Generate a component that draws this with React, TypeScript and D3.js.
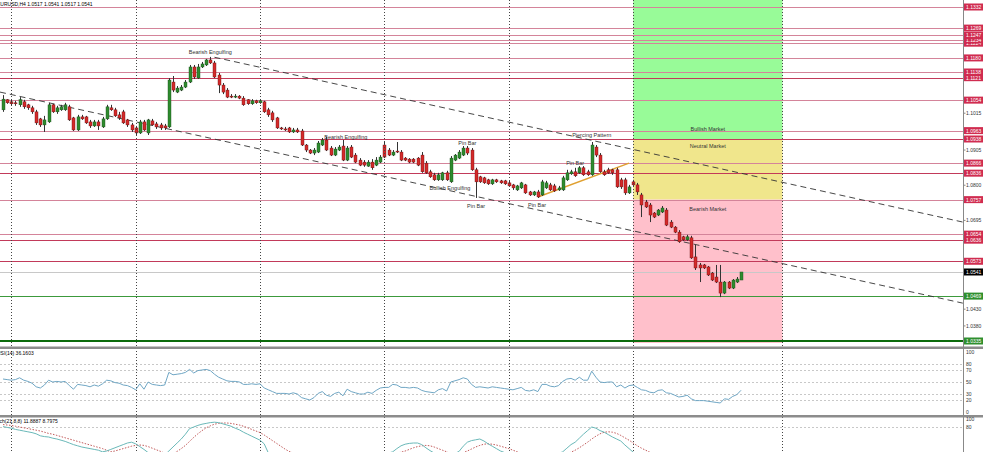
import React from "react";
import * as d3 from "d3";

const W = 983;
const H = 452;

// [open, high, low, close]
const candles: [number, number, number, number][] = [
  [1.1025,1.1069,1.1019,1.1057],[1.1055,1.1057,1.1043,1.1046],[1.1049,1.1055,1.1037,1.1043],[1.1046,1.1052,1.1037,1.1043],
  [1.1040,1.1063,1.1034,1.1055],[1.1049,1.1055,1.1028,1.1034],[1.1040,1.1043,1.1025,1.1031],[1.1031,1.1037,1.1013,1.1019],
  [1.1019,1.1025,1.0980,1.0986],[1.0998,1.1001,1.0974,1.0980],[1.0980,1.1007,1.0959,1.0995],[1.0989,1.1046,1.0986,1.1040],
  [1.1040,1.1043,1.1016,1.1019],[1.1019,1.1037,1.1013,1.1031],[1.1025,1.1040,1.1022,1.1034],[1.1025,1.1046,1.1022,1.1040],
  [1.1034,1.1040,1.0992,1.0995],[1.1001,1.1004,1.0962,1.0965],[1.0965,1.1010,1.0962,1.1004],[1.1004,1.1010,1.0995,1.0998],
  [1.1004,1.1007,1.0983,1.0986],[1.0989,1.0995,1.0971,1.0977],[1.0977,1.0995,1.0974,1.0989],[1.0989,1.0995,1.0965,1.0977],
  [1.0974,1.1004,1.0971,1.0998],[1.0998,1.1040,1.0995,1.1034],[1.1031,1.1040,1.1022,1.1025],[1.1025,1.1031,1.1004,1.1007],
  [1.1010,1.1019,1.0995,1.1001],[1.1019,1.1025,1.0983,1.0986],[1.0995,1.0998,1.0974,1.0980],[1.0980,1.0986,1.0959,1.0965],
  [1.0971,1.0977,1.0950,1.0956],[1.0956,1.0995,1.0953,1.0989],[1.0989,1.0995,1.0962,1.0965],[1.0956,1.0998,1.0950,1.0995],
  [1.0992,1.0998,1.0977,1.0980],[1.0983,1.0989,1.0968,1.0974],[1.0980,1.0986,1.0965,1.0971],[1.0977,1.0983,1.0965,1.0971],
  [1.0974,1.1120,1.0971,1.1114],[1.1108,1.1126,1.1078,1.1084],[1.1078,1.1096,1.1075,1.1090],[1.1084,1.1099,1.1081,1.1093],
  [1.1093,1.1114,1.1090,1.1108],[1.1108,1.1159,1.1105,1.1153],[1.1153,1.1159,1.1117,1.1123],[1.1120,1.1162,1.1117,1.1153],
  [1.1153,1.1168,1.1150,1.1162],[1.1159,1.1177,1.1156,1.1174],[1.1174,1.1183,1.1162,1.1165],[1.1165,1.1171,1.1120,1.1123],
  [1.1129,1.1135,1.1075,1.1099],[1.1099,1.1105,1.1072,1.1078],[1.1084,1.1090,1.1060,1.1063],[1.1066,1.1072,1.1060,1.1063],
  [1.1063,1.1072,1.1060,1.1066],[1.1066,1.1069,1.1057,1.1060],[1.1060,1.1066,1.1037,1.1040],[1.1055,1.1057,1.1040,1.1043],
  [1.1043,1.1057,1.1040,1.1052],[1.1052,1.1055,1.1043,1.1046],[1.1046,1.1055,1.1043,1.1052],[1.1049,1.1052,1.1016,1.1019],
  [1.1025,1.1031,1.1004,1.1010],[1.1016,1.1022,1.0989,1.0995],[1.1001,1.1004,1.0968,1.0971],[1.0971,1.0974,1.0965,1.0968],
  [1.0968,1.0974,1.0962,1.0965],[1.0971,1.0974,1.0956,1.0959],[1.0959,1.0971,1.0956,1.0965],[1.0965,1.0971,1.0956,1.0959],
  [1.0962,1.0968,1.0917,1.0920],[1.0920,1.0923,1.0899,1.0905],[1.0905,1.0908,1.0893,1.0896],[1.0896,1.0911,1.0890,1.0905],
  [1.0899,1.0932,1.0896,1.0926],[1.0920,1.0941,1.0917,1.0935],[1.0935,1.0944,1.0902,1.0905],[1.0911,1.0917,1.0887,1.0890],
  [1.0890,1.0914,1.0887,1.0908],[1.0905,1.0920,1.0902,1.0914],[1.0917,1.0935,1.0872,1.0875],[1.0875,1.0917,1.0872,1.0911],
  [1.0914,1.0920,1.0881,1.0884],[1.0890,1.0896,1.0866,1.0869],[1.0875,1.0881,1.0857,1.0860],[1.0869,1.0875,1.0855,1.0860],
  [1.0857,1.0875,1.0855,1.0869],[1.0869,1.0878,1.0846,1.0852],[1.0860,1.0884,1.0857,1.0875],[1.0869,1.0890,1.0866,1.0884],
  [1.0920,1.0929,1.0881,1.0884],[1.0905,1.0911,1.0887,1.0890],[1.0890,1.0905,1.0887,1.0899],[1.0902,1.0929,1.0896,1.0899],
  [1.0899,1.0905,1.0872,1.0875],[1.0881,1.0884,1.0872,1.0875],[1.0878,1.0881,1.0866,1.0869],[1.0878,1.0881,1.0866,1.0869],
  [1.0881,1.0884,1.0857,1.0860],[1.0890,1.0899,1.0837,1.0840],[1.0866,1.0872,1.0834,1.0837],[1.0840,1.0846,1.0822,1.0825],
  [1.0831,1.0837,1.0813,1.0816],[1.0816,1.0837,1.0813,1.0831],[1.0816,1.0840,1.0813,1.0837],[1.0837,1.0843,1.0813,1.0816],
  [1.0810,1.0887,1.0807,1.0881],[1.0875,1.0893,1.0872,1.0890],[1.0881,1.0905,1.0878,1.0899],[1.0890,1.0917,1.0887,1.0911],
  [1.0911,1.0917,1.0890,1.0896],[1.0905,1.0911,1.0843,1.0846],[1.0846,1.0852,1.0762,1.0810],[1.0825,1.0828,1.0807,1.0810],
  [1.0822,1.0825,1.0804,1.0807],[1.0816,1.0819,1.0801,1.0804],[1.0804,1.0819,1.0801,1.0816],[1.0816,1.0819,1.0807,1.0810],
  [1.0813,1.0816,1.0804,1.0807],[1.0813,1.0816,1.0801,1.0804],[1.0807,1.0813,1.0795,1.0798],[1.0801,1.0804,1.0786,1.0792],
  [1.0786,1.0801,1.0783,1.0798],[1.0792,1.0810,1.0789,1.0807],[1.0801,1.0804,1.0774,1.0777],[1.0780,1.0783,1.0768,1.0771],
  [1.0771,1.0783,1.0768,1.0780],[1.0780,1.0786,1.0762,1.0765],[1.0771,1.0816,1.0768,1.0810],[1.0792,1.0813,1.0789,1.0807],
  [1.0801,1.0807,1.0783,1.0786],[1.0798,1.0804,1.0780,1.0783],[1.0786,1.0798,1.0783,1.0792],[1.0786,1.0828,1.0783,1.0822],
  [1.0816,1.0846,1.0813,1.0837],[1.0834,1.0846,1.0831,1.0840],[1.0840,1.0852,1.0825,1.0828],[1.0837,1.0857,1.0834,1.0852],
  [1.0852,1.0857,1.0828,1.0831],[1.0840,1.0846,1.0828,1.0831],[1.0831,1.0929,1.0828,1.0920],[1.0914,1.0920,1.0884,1.0890],
  [1.0890,1.0896,1.0837,1.0840],[1.0840,1.0846,1.0828,1.0831],[1.0846,1.0852,1.0834,1.0837],[1.0846,1.0849,1.0831,1.0837],
  [1.0846,1.0852,1.0792,1.0795],[1.0816,1.0822,1.0789,1.0795],[1.0816,1.0822,1.0771,1.0777],[1.0777,1.0801,1.0774,1.0795],
  [1.0810,1.0816,1.0798,1.0801],[1.0801,1.0807,1.0771,1.0780],[1.0771,1.0777,1.0705,1.0741],[1.0750,1.0756,1.0732,1.0735],
  [1.0741,1.0747,1.0690,1.0711],[1.0717,1.0720,1.0702,1.0705],[1.0711,1.0729,1.0708,1.0726],[1.0720,1.0738,1.0717,1.0732],
  [1.0726,1.0732,1.0678,1.0681],[1.0690,1.0696,1.0672,1.0675],[1.0675,1.0678,1.0657,1.0660],[1.0660,1.0666,1.0628,1.0631],
  [1.0646,1.0649,1.0634,1.0637],[1.0637,1.0652,1.0634,1.0646],[1.0643,1.0649,1.0580,1.0583],[1.0586,1.0622,1.0547,1.0553],
  [1.0562,1.0568,1.0511,1.0553],[1.0562,1.0565,1.0550,1.0553],[1.0556,1.0559,1.0529,1.0532],[1.0538,1.0541,1.0514,1.0517],
  [1.0526,1.0562,1.0508,1.0511],[1.0511,1.0562,1.0466,1.0478],[1.0478,1.0514,1.0475,1.0511],[1.0511,1.0514,1.0490,1.0493],
  [1.0493,1.0520,1.0490,1.0517],[1.0511,1.0526,1.0508,1.0520],[1.0517,1.0541,1.0517,1.0541],
];

const rsi = [
  55,54,53,54,57,53,51,48,42,40, 45,53,50,51,50,51,44,38,46,45,
  44,42,45,43,47,53,52,49,48,45, 44,41,37,47,38,50,46,45,44,45,
  66,62,63,64,66,71,65,69,70,71, 69,63,58,55,52,51,51,50,46,46,
  47,46,47,40,37,34,31,31,31,30, 32,30,24,22,20,24,31,34,28,26,
  31,33,27,38,34,32,30,30,33,31, 36,40,41,41,46,45,41,41,40,41,
  40,36,34,33,32,37,39,35,50,52, 54,57,55,46,41,42,41,40,42,41,
  40,39,38,37,39,41,36,35,37,34, 46,46,43,42,44,51,55,56,53,58,
  53,53,68,58,50,49,50,50,42,45, 40,44,45,41,37,36,33,32,36,37,
  32,31,28,25,26,28,22,19,19,19, 18,17,16,15,22,21,26,29,36.16,
];

const stochMain = [
  81,79,77,74,72,70,68,66,63,58, 56,55,52,50,47,44,40,36,33,30,
  28,26,24,22,18,20,24,28,32,36, 40,42,38,31,24,16,12,10,8,10,
  20,30,40,50,62,76,80,84,87,89, 91,92,91,88,85,82,77,73,67,62,
  57,52,47,38,15,12,9,7,6,5, 6,5,4,3,3,4,6,8,7,6,
  7,6,5,7,6,5,4,4,5,6, 8,11,13,15,18,26,33,37,39,40,
  40,36,28,21,15,12,10,9,11,14, 19,32,42,46,48,50,45,38,32,26,
  20,16,13,10,8,7,6,5,4,4, 5,7,9,11,14,18,27,36,42,52,
  62,71,80,77,71,67,61,55,50,45, 35,26,17,13,10,8,6,5,5,6,
  4,3,3,2,2,3,2,2,3,4, 4,3,3,4,6,8,9,10,11.89,
];

const stochSignal = [
  86,85,84,82,80,78,76,74,72,70, 67,64,62,59,56,53,50,47,44,41,
  38,35,32,29,26,22,18,20,23,26, 29,32,34,35,34,31,27,23,19,15,
  12,14,19,26,34,44,54,63,71,78, 83,87,89,90,90,89,87,85,82,78,
  74,70,66,60,53,46,39,32,25,19, 15,12,10,8,7,6,5,5,5,6,
  6,7,7,6,6,6,6,5,5,6, 7,8,9,11,13,15,17,20,24,28,
  31,33,34,33,30,26,22,18,14,12, 13,16,20,25,30,34,37,38,37,35,
  32,29,26,22,18,15,12,10,8,7, 6,6,6,7,8,10,13,17,22,28,
  35,42,50,57,63,67,68,67,64,59, 53,47,40,33,27,22,17,14,12,10,
  8,7,6,5,5,4,4,3,3,3, 3,3,3,3,4,5,6,7,8.8,
];

const title = "EURUSD,H4  1.0517 1.0541 1.0517 1.0541";
const rsiTitle = "RSI(14) 36.1603";
const stochTitle = "Stoch(21,8,8) 11.8887 8.7975";

const levels = [1.1332, 1.1269, 1.1247, 1.1234, 1.1224, 1.1180, 1.1138, 1.1121, 1.1054, 1.0963, 1.0938, 1.0866, 1.0836, 1.0757, 1.0654, 1.0636, 1.0573];
const strongLevels = [1.1121, 1.0938, 1.0836, 1.0636, 1.0573];
const supportLevel = 1.0469;
const baseLevel = 1.0335;
const currentPrice = 1.0541;

const priceTicks = [1.1275, 1.1225, 1.1170, 1.1120, 1.1070, 1.1015, 1.0960, 1.0905, 1.0855, 1.0800, 1.0745, 1.0695, 1.0640, 1.0590, 1.0535, 1.0485, 1.0430, 1.0380, 1.0325];
const rsiTicks = [100, 80, 70, 50, 30, 20, 0];
const rsiGrid = [80, 70, 50, 30, 20];
const stochTicks = [100, 80];
const stochGrid = [80];

const separators = [2, 32, 62, 92, 122, 152, 188];

const zones = [
  { name: "Bullish Market", top: 1.1353, bottom: 1.0938, labelPrice: 1.0968, fill: "#98fb98" },
  { name: "Neutral Market", top: 1.0938, bottom: 1.0757, labelPrice: 1.0917, fill: "#f0e68c" },
  { name: "Bearish Market", top: 1.0757, bottom: 1.0329, labelPrice: 1.0729, fill: "#ffc0cb" },
];
const zoneStart = 152;
const zoneEnd = 188;
const zoneLabelIndex = 170;

const trendLines = [
  { i1: 51, p1: 1.1182, i2: 231.5, p2: 1.0690 },
  { i1: -0.72, p1: 1.1078, i2: 231.5, p2: 1.0448 },
];
const supportLine = { i1: 129, p1: 1.0765, i2: 151, p2: 1.0866 };

const patterns = [
  { text: "Bearish Engulfing", i: 50, p: 1.1198 },
  { text: "Bearish Engulfing", i: 82.7, p: 1.0944 },
  { text: "Pin Bar", i: 112, p: 1.0926 },
  { text: "Bullish Engulfing", i: 107.8, p: 1.0792 },
  { text: "Pin Bar", i: 114.1, p: 1.0738 },
  { text: "Pin Bar", i: 128.8, p: 1.0741 },
  { text: "Pin Bar", i: 138, p: 1.0866 },
  { text: "Piercing Pattern", i: 142, p: 1.0950 },
];

const FONT = "'Liberation Sans', Arial, sans-serif";

export default function App() {
  const AX = 963.5;
  const x = d3.scaleLinear().domain([0, 178]).range([3, 741]);
  const y = d3.scaleLinear().domain([1.0335, 1.1332]).range([341, 7]);
  const yR = d3.scaleLinear().domain([0, 100]).range([412, 352]);
  const yS = d3.scaleLinear().domain([0, 100]).range([459, 419]);

  const rsiLine = d3.line<number>().x((_, i) => x(i)).y((d) => yR(d));
  const stLine = d3.line<number>().x((_, i) => x(i)).y((d) => yS(d));

  const levelsSorted = [...levels].sort((a, b) => a - b);
  const fmt = d3.format(".4f");
  const labelPrices = [...levels, supportLevel, baseLevel, currentPrice];
  const visibleTicks = priceTicks.filter((t) => labelPrices.every((l) => Math.abs(y(t) - y(l)) > 6));

  return (
    <svg width={W} height={H} viewBox={`0 0 ${W} ${H}`} style={{ position: "absolute", left: 0, top: 0, background: "#fff" }} fontFamily={FONT}>
      <defs>
        <clipPath id="main"><rect x={0} y={0} width={AX} height={345} /></clipPath>
        <clipPath id="rsi"><rect x={0} y={349} width={AX} height={66} /></clipPath>
        <clipPath id="st"><rect x={0} y={417.5} width={AX} height={40} /></clipPath>
      </defs>
      <rect x={0} y={0} width={W} height={H} fill="#fff" />

      <g clipPath="url(#main)">
        {zones.map((z) => (
          <rect key={z.name} x={x(zoneStart)} y={y(z.top)} width={x(zoneEnd) - x(zoneStart)} height={y(z.bottom) - y(z.top)} fill={z.fill} />
        ))}
        {levels.map((l) => (
          <line key={l} x1={0} x2={AX} y1={Math.round(y(l)) + 0.5} y2={Math.round(y(l)) + 0.5}
            stroke={strongLevels.includes(l) ? "#c23a5a" : "#d4849a"} strokeWidth={1} />
        ))}
        <line x1={0} x2={AX} y1={Math.round(y(currentPrice)) + 0.5} y2={Math.round(y(currentPrice)) + 0.5} stroke="#c8c8c8" />
        <line x1={0} x2={AX} y1={Math.round(y(supportLevel)) + 0.5} y2={Math.round(y(supportLevel)) + 0.5} stroke="#3c9a3c" />
        {zones.map((z) => (
          <text key={z.name + "t"} x={x(zoneLabelIndex)} y={y(z.labelPrice)} fontSize={5.5} fill="#333" textAnchor="middle" dominantBaseline="central">{z.name}</text>
        ))}
        {trendLines.map((t, k) => (
          <line key={k} x1={x(t.i1)} y1={y(t.p1)} x2={x(t.i2)} y2={y(t.p2)} stroke="#333" strokeWidth={0.9} strokeDasharray="6,4" />
        ))}
        <line x1={x(supportLine.i1)} y1={y(supportLine.p1)} x2={x(supportLine.i2)} y2={y(supportLine.p2)} stroke="#e0a030" strokeWidth={1.5} />
        {candles.map((c, i) => {
          const [o, h, l, cl] = c;
          const up = cl >= o;
          const cx = Math.round(x(i));
          const top = y(Math.max(o, cl));
          const bh = Math.max(1, Math.abs(y(o) - y(cl)));
          return (
            <g key={i}>
              <line x1={cx + 0.5} x2={cx + 0.5} y1={y(h)} y2={y(l)} stroke="#333" strokeWidth={1} />
              <rect x={cx - 1} y={top} width={3} height={bh} fill={up ? "#2e8b2e" : "#d42a2a"} stroke={up ? "#1b4d1b" : "#6a1010"} strokeWidth={0.4} />
            </g>
          );
        })}
        {patterns.map((pt, k) => (
          <text key={k} x={x(pt.i)} y={y(pt.p)} fontSize={5.5} fill="#333" textAnchor="middle" dominantBaseline="central">{pt.text}</text>
        ))}
        <line x1={0} x2={AX} y1={y(baseLevel)} y2={y(baseLevel)} stroke="#0b6b0b" strokeWidth={2} />
      </g>

      {separators.map((s) => (
        <line key={s} x1={Math.round(x(s)) + 0.5} x2={Math.round(x(s)) + 0.5} y1={0} y2={H} stroke="#444" strokeWidth={1} strokeDasharray="1,2" />
      ))}

      <text x={-3} y={4} fontSize={5} fill="#000" dominantBaseline="central">{title}</text>

      <rect x={0} y={346.5} width={W} height={2.5} fill="#8c8c8c" />
      <rect x={0} y={415} width={W} height={2.5} fill="#8c8c8c" />

      <g clipPath="url(#rsi)">
        {rsiGrid.map((g) => (
          <line key={g} x1={0} x2={AX} y1={Math.round(yR(g)) + 0.5} y2={Math.round(yR(g)) + 0.5} stroke="#c8c8c8" strokeDasharray="2,2" />
        ))}
        <path d={rsiLine(rsi) || ""} fill="none" stroke="#6fa6c4" strokeWidth={1} />
      </g>
      <text x={-3} y={353} fontSize={5} fill="#000" dominantBaseline="central">{rsiTitle}</text>
      {rsiTicks.map((t) => (
        <text key={t} x={966} y={yR(t)} fontSize={5} fill="#333" dominantBaseline="central">{t}</text>
      ))}

      <g clipPath="url(#st)">
        {stochGrid.map((g) => (
          <line key={g} x1={0} x2={AX} y1={Math.round(yS(g)) + 0.5} y2={Math.round(yS(g)) + 0.5} stroke="#c8c8c8" strokeDasharray="2,2" />
        ))}
        <path d={stLine(stochSignal) || ""} fill="none" stroke="#c05a5a" strokeWidth={1} strokeDasharray="1.5,1.5" />
        <path d={stLine(stochMain) || ""} fill="none" stroke="#6ab8b8" strokeWidth={1} />
      </g>
      <text x={-8} y={421} fontSize={5} fill="#000" dominantBaseline="central">{stochTitle}</text>
      {stochTicks.map((t) => (
        <text key={t} x={966} y={yS(t)} fontSize={5} fill="#333" dominantBaseline="central">{t}</text>
      ))}

      <line x1={AX} x2={AX} y1={0} y2={H} stroke="#888" />
      {visibleTicks.map((t) => (
        <g key={t}>
          <line x1={AX} x2={AX + 2} y1={y(t)} y2={y(t)} stroke="#888" />
          <text x={966} y={y(t)} fontSize={5} fill="#333" dominantBaseline="central">{fmt(t)}</text>
        </g>
      ))}
      {levelsSorted.map((l) => (
        <g key={l}>
          <rect x={964} y={y(l) - 3.5} width={19} height={7} fill="#d02c50" />
          <text x={966} y={y(l)} fontSize={5} fill="#fff" dominantBaseline="central">{fmt(l)}</text>
        </g>
      ))}
      {[supportLevel, baseLevel].map((l) => (
        <g key={l}>
          <rect x={964} y={y(l) - 3.5} width={19} height={7} fill="#2f8f2f" />
          <text x={966} y={y(l)} fontSize={5} fill="#fff" dominantBaseline="central">{fmt(l)}</text>
        </g>
      ))}
      <rect x={964} y={y(currentPrice) - 3.5} width={19} height={7} fill="#000" />
      <text x={966} y={y(currentPrice)} fontSize={5} fill="#fff" dominantBaseline="central">{fmt(currentPrice)}</text>
    </svg>
  );
}
